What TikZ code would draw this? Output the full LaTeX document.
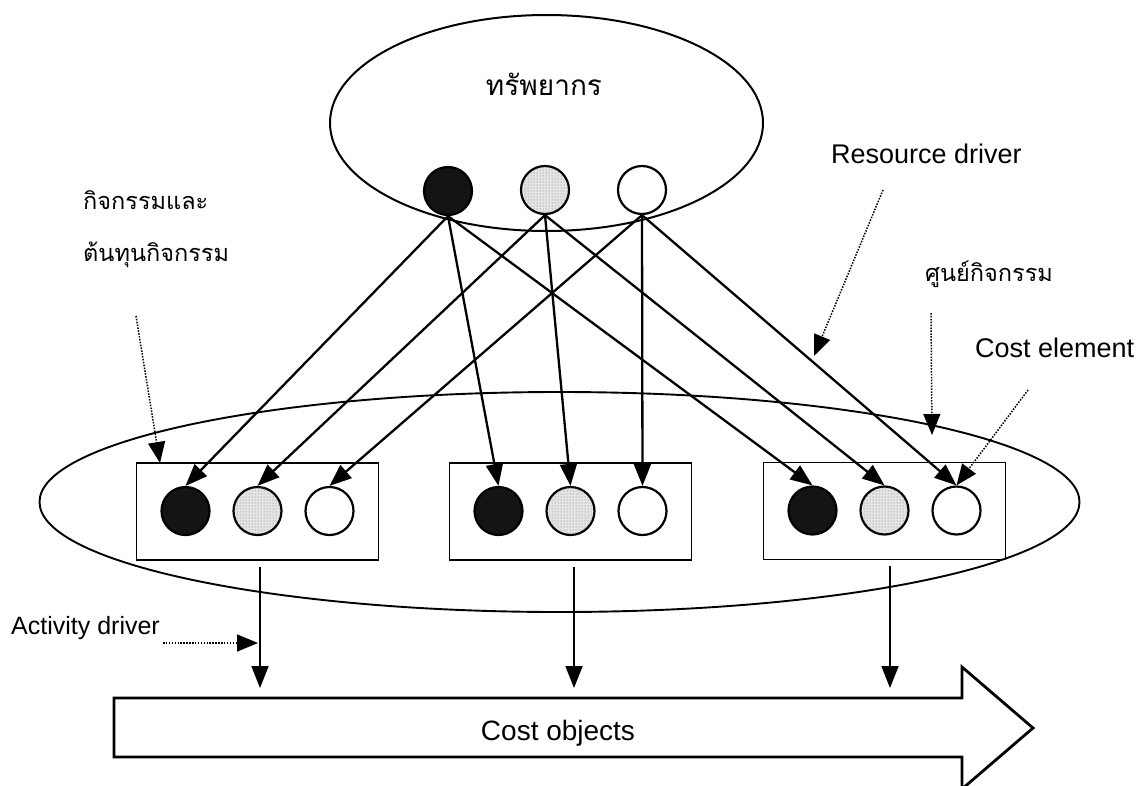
\documentclass[tikz,border=0pt]{standalone}
\usepackage{fontspec}
\setmainfont{Liberation Sans}
\newfontfamily\thaifont[Script=Thai]{Loma}
\usetikzlibrary{arrows.meta,patterns}

\tikzset{
  tip/.style={-{Triangle[length=22pt,width=17pt]}},
  flow/.style={tip, line width=2.3pt},
  leader/.style={-{Triangle[length=21pt,width=17pt]}, line width=1.5pt, dash pattern=on 1.5pt off 1.4pt},
  dot/.style={circle, draw, line width=2.2pt, minimum size=48pt, inner sep=0pt},
  darkdot/.style={dot, fill=black!92},
  greydot/.style={dot, fill=black!10, postaction={pattern=dots, pattern color=black!55}},
  whitedot/.style={dot, fill=white},
  costbox/.style={draw, line width=1.9pt, minimum width=242pt, minimum height=97pt, inner sep=0pt},
  lab/.style={font=\fontsize{27}{32}\selectfont, inner sep=0pt},
  thlab/.style={font=\thaifont\fontsize{23.5}{52}\selectfont, inner sep=0pt, align=left},
}

\begin{document}
\begin{tikzpicture}[x=1pt, y=-1pt]
\useasboundingbox (0,0) rectangle (1141,785);

% resources
\draw[line width=2pt] (546.5,123) ellipse [x radius=216.5, y radius=108];
\node[font=\thaifont\fontsize{28}{34}\selectfont, inner sep=0pt] (res) at (544,84) {ทรัพยากร};
\node[darkdot]  (r1) at (448,191) {};
\node[greydot]  (r2) at (545,190) {};
\node[whitedot] (r3) at (642,190) {};

% activity centre
\draw[line width=1.9pt] (559.5,502) ellipse [x radius=520, y radius=110];
\node[costbox] (bl) at (257.5,511.5) {};
\node[costbox] (bm) at (570.5,511.5) {};
\node[costbox] (br) at (884.5,511) {};

\foreach \b/\p in {bl/a, bm/b, br/c} {
  \node[darkdot]  (\p1) at ([xshift=-72pt,yshift=0.5pt]\b.center) {};
  \node[greydot]  (\p2) at ([yshift=0.5pt]\b.center) {};
  \node[whitedot] (\p3) at ([xshift=72pt,yshift=0.5pt]\b.center) {};
}

% resource drivers
\foreach \s in {1,2,3} {
  \foreach \t in {a,b,c} {
    \draw[flow] (r\s.south) -- (\t\s.north);
  }
}

% cost objects
\begin{scope}
\clip (0,0) rectangle (1141,785);
\draw[line width=2.8pt, line join=miter] (114,698) -- (962,698) -- (962,667) -- (1033,728)
  -- (962,789) -- (962,757) -- (114,757) -- cycle;
\end{scope}
\node[lab, font=\fontsize{28}{32}\selectfont] (obj) at (558,733) {Cost objects};

\coordinate (o1) at (260,688);
\coordinate (o2) at (574,688);
\coordinate (o3) at (890,688);
\draw[flow, line width=1.8pt] ([xshift=2.5pt,yshift=-6pt]bl.south) -- (o1);
\draw[flow, line width=1.8pt] ([xshift=3.5pt,yshift=-6pt]bm.south) -- (o2);
\draw[flow, line width=1.8pt] ([xshift=5.5pt,yshift=-6pt]br.south) -- (o3);

% labels and leaders
\node[lab, anchor=west] (rd) at (831,154) {Resource driver};
\coordinate (rd0) at (883,190);
\coordinate (rd1) at (814,356);
\draw[leader] (rd0) -- (rd1);

\node[thlab, anchor=west] (act) at (83,229) {กิจกรรมและ\\ต้นทุนกิจกรรม};
\coordinate (act0) at (136,316);
\coordinate (act1) at (160,463);
\draw[leader] (act0) -- (act1);

\node[thlab, anchor=west] (ctr) at (925,274) {ศูนย์กิจกรรม};
\coordinate (ctr0) at (931,313);
\coordinate (ctr1) at (932,435);
\draw[leader] (ctr0) -- (ctr1);

\node[lab, anchor=west] (ce) at (975,348) {Cost element};
\coordinate (ce0) at (1028,390);
\draw[leader] (ce0) -- (c3.north);

\node[lab, anchor=west, font=\fontsize{25}{30}\selectfont] (ad) at (11,628) {Activity driver};
\coordinate (ad0) at (163,643);
\coordinate (ad1) at (258,643);
\draw[leader] (ad0) -- (ad1);
\end{tikzpicture}
\end{document}
